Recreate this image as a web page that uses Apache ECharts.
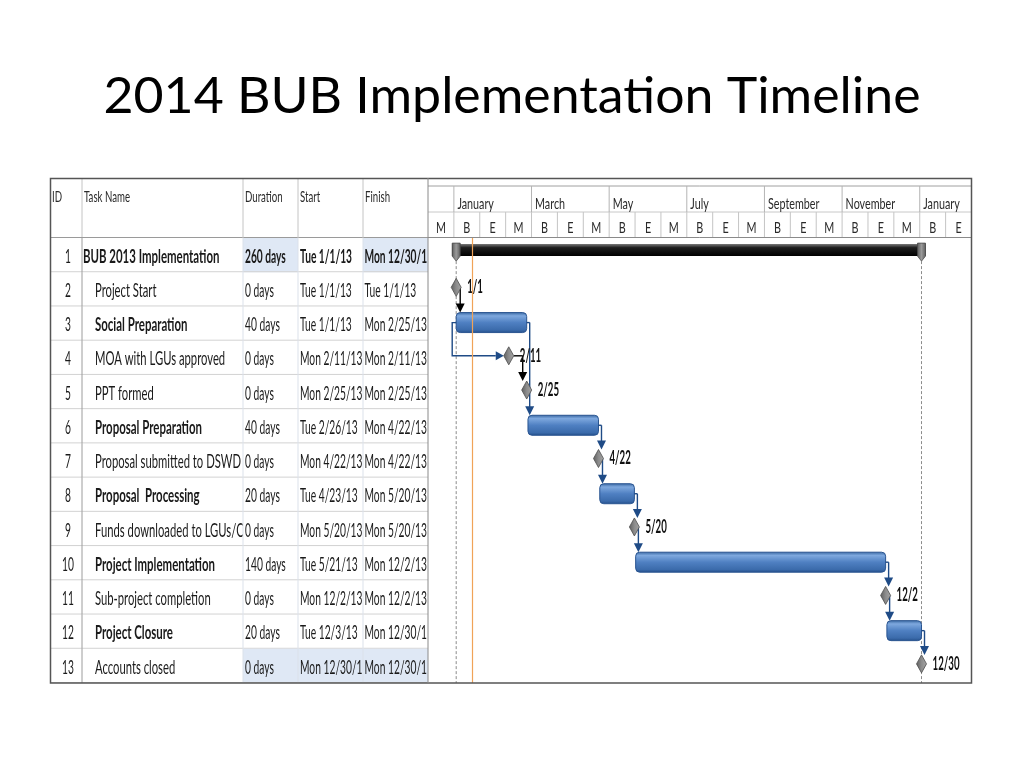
<!DOCTYPE html>
<html>
<head>
<meta charset="utf-8">
<script src="https://cdn.jsdelivr.net/npm/echarts@6.0.0/dist/echarts.min.js"></script>
<style>
html,body{margin:0;padding:0;background:#ffffff;}
#chart{width:1024px;height:768px;}
</style>
</head>
<body>
<div id="chart"></div>
<script>
// ---------------- data ----------------
const chartTitle = '2014 BUB Implementation Timeline';
const columnHeaders = ['ID', 'Task Name', 'Duration', 'Start', 'Finish'];
const taskIds = ['1','2','3','4','5','6','7','8','9','10','11','12','13'];
const taskNames = ['BUB 2013 Implementation','Project Start','Social Preparation','MOA with LGUs approved','PPT formed','Proposal Preparation','Proposal submitted to DSWD','Proposal  Processing','Funds downloaded to LGUs/CSOs','Project Implementation','Sub-project completion','Project Closure','Accounts closed'];
const durations = ['260 days','0 days','40 days','0 days','0 days','40 days','0 days','20 days','0 days','140 days','0 days','20 days','0 days'];
const startLabels = ['Tue 1/1/13','Tue 1/1/13','Tue 1/1/13','Mon 2/11/13','Mon 2/25/13','Tue 2/26/13','Mon 4/22/13','Tue 4/23/13','Mon 5/20/13','Tue 5/21/13','Mon 12/2/13','Tue 12/3/13','Mon 12/30/13'];
const finishLabels = ['Mon 12/30/13','Tue 1/1/13','Mon 2/25/13','Mon 2/11/13','Mon 2/25/13','Mon 4/22/13','Mon 4/22/13','Mon 5/20/13','Mon 5/20/13','Mon 12/2/13','Mon 12/2/13','Mon 12/30/13','Mon 12/30/13'];
const startDates = ['2013-01-01','2013-01-01','2013-01-01','2013-02-11','2013-02-25','2013-02-26','2013-04-22','2013-04-23','2013-05-20','2013-05-21','2013-12-02','2013-12-03','2013-12-30'];
const finishDates = ['2013-12-30','2013-01-01','2013-02-25','2013-02-11','2013-02-25','2013-04-22','2013-04-22','2013-05-20','2013-05-20','2013-12-02','2013-12-02','2013-12-30','2013-12-30'];
const taskTypes = ['summary','milestone','task','milestone','milestone','task','milestone','task','milestone','task','milestone','task','milestone'];
// [predecessor row, successor row, link type]
const dependencies = [[1,2,'FS'],[2,3,'SS'],[3,4,'FS'],[2,5,'FS'],[5,6,'FS'],[6,7,'FS'],[7,8,'FS'],[8,9,'FS'],[9,10,'FS'],[10,11,'FS'],[11,12,'FS']];
const currentDate = '2013-01-13';
const timescaleStart = '2012-12-10';
const timescaleEnd = '2014-02-07';
const majorTimescale = ['', 'January', 'March', 'May', 'July', 'September', 'November', 'January'];
const minorTimescale = ['M','B','E','M','B','E','M','B','E','M','B','E','M','B','E','M','B','E','M','B','E'];

// ---------------- helpers ----------------
const EPOCH = Date.UTC(2013, 0, 1);
function dayOf(s) { const p = s.split('-').map(Number); return (Date.UTC(p[0], p[1] - 1, p[2]) - EPOCH) / 864e5; }
function mdLabel(s) { const p = s.split('-').map(Number); return p[1] + '/' + p[2]; }

const FONT = 'Lato';
const mctx = document.createElement('canvas').getContext('2d');
function tw(s, weight, size) { mctx.font = weight + ' ' + size + 'px ' + FONT; return mctx.measureText(s).width; }
const SC_REG = 146 / tw('Proposal submitted to DSWD', 'normal', 19);
const SC_BOLD = 120 / tw('Project Implementation', 'bold', 19);
const SC_NUM = 62.5 / tw('Mon 2/11/13', 'normal', 19);
const SC_NUM_B = 52 / tw('Tue 1/1/13', 'bold', 19);
const SC_HEAD = 46 / tw('Task Name', 'normal', 16);
const SC_SCALE = 36.5 / tw('January', 'normal', 16);
const SC_MS = 27 / tw('12/30', 'bold', 18);
const SC_TITLE = 817 / tw(chartTitle, 'normal', 50);

const TEXT = '#1a1a1a';
function label(x, y, text, size, weight, scale, align, color) {
  return { type: 'text', x: x, y: y, scaleX: scale, silent: true,
    style: { text: text, fontSize: size, fontFamily: FONT, fontWeight: weight, fill: color || TEXT,
      align: align || 'left', verticalAlign: 'middle' } };
}
function clipped(el, x0, y0, x1, y1) {
  return { type: 'group', clipPath: { type: 'rect', shape: { x: x0, y: y0, width: x1 - x0, height: y1 - y0 } }, children: [el] };
}
function seg(x1, y1, x2, y2, color, width, dash) {
  return { type: 'line', silent: true, shape: { x1: x1, y1: y1, x2: x2, y2: y2 },
    style: { stroke: color, lineWidth: width || 1, lineDash: dash || null } };
}

// layout (styles, not data)
const COL = [0, 32, 193, 248, 313, 378];          // table column edges relative to table left
const HIGHLIGHT = { 0: [2, 4], 12: [2, 3, 4] };     // changed-cell shading
const BLACK_LINKS = [0, 2];
const BLUE = '#1f4b86';

const barFill = new echarts.graphic.LinearGradient(0, 0, 0, 1, [
  { offset: 0, color: '#35649f' }, { offset: 0.18, color: '#7ea8de' }, { offset: 0.5, color: '#4f80c2' },
  { offset: 0.85, color: '#3b6bab' }, { offset: 1, color: '#234d88' }]);
const sumFill = new echarts.graphic.LinearGradient(0, 0, 0, 1, [
  { offset: 0, color: '#777' }, { offset: 0.3, color: '#1e1e1e' }, { offset: 1, color: '#000' }]);
const capFill = new echarts.graphic.LinearGradient(0, 0, 1, 0, [
  { offset: 0, color: '#5a5a5a' }, { offset: 0.5, color: '#9a9a9a' }, { offset: 1, color: '#5a5a5a' }]);
const msFill = new echarts.graphic.LinearGradient(0, 0, 1, 0, [
  { offset: 0, color: '#5e5e5e' }, { offset: 0.5, color: '#8c8c8c' }, { offset: 1, color: '#a5a5a5' }]);

const rows = taskIds.map((id, i) => i);

const option = {
  animation: false,
  grid: [
    { left: 50, top: 178, width: 378, height: 60 },
    { left: 50, top: 238, width: 378, height: 445 },
    { left: 428, top: 178, width: 543.5, height: 60 },
    { left: 428, top: 238, width: 543.5, height: 445 }
  ],
  xAxis: [
    { gridIndex: 0, type: 'value', min: 0, max: 378, show: false },
    { gridIndex: 1, type: 'value', min: 0, max: 378, show: false },
    { gridIndex: 2, type: 'value', min: 0, max: minorTimescale.length, show: false },
    { gridIndex: 3, type: 'value', min: dayOf(timescaleStart), max: dayOf(timescaleEnd), show: false }
  ],
  yAxis: [
    { gridIndex: 0, type: 'value', min: 0, max: 60, inverse: true, show: false },
    { gridIndex: 1, type: 'category', data: taskIds, inverse: true, show: false },
    { gridIndex: 2, type: 'value', min: 0, max: 60, inverse: true, show: false },
    { gridIndex: 3, type: 'category', data: taskIds, inverse: true, show: false }
  ],
  graphic: [
    { type: 'text', x: 512, y: 97, scaleX: SC_TITLE, silent: true,
      style: { text: chartTitle, fontSize: 50, fontFamily: FONT, fill: '#000', align: 'center', verticalAlign: 'middle' } },
    { type: 'rect', z: 100, silent: true, shape: { x: 50.5, y: 178.5, width: 921, height: 504.5 },
      style: { fill: 'none', stroke: '#555', lineWidth: 1.5 } },
    { type: 'line', z: 100, silent: true, shape: { x1: 428, y1: 178, x2: 428, y2: 683 },
      style: { stroke: '#8a8a8a', lineWidth: 1 } }
  ],
  series: [
    // table header
    { type: 'custom', xAxisIndex: 0, yAxisIndex: 0, z: 2,
      data: columnHeaders.map((h, i) => [COL[i], 0]),
      renderItem: function (params, api) {
        const i = params.dataIndex;
        const x0 = api.coord([COL[i], 0])[0], x1 = api.coord([COL[i + 1], 0])[0];
        const yt = api.coord([0, 0])[1], yb = api.coord([0, 60])[1];
        const ch = [];
        if (i < columnHeaders.length - 1) ch.push(seg(x1, yt, x1, yb, '#c4c4c4'));
        if (i === 0) ch.push(seg(x0, yb - 0.5, api.coord([378, 0])[0], yb - 0.5, '#9a9a9a'));
        ch.push(label(x0 + 2, api.coord([0, 18.5])[1], columnHeaders[i], 16, 'normal', SC_HEAD, 'left', '#2a2a2a'));
        return { type: 'group', children: ch };
      }
    },
    // table body
    { type: 'custom', xAxisIndex: 1, yAxisIndex: 1, z: 2,
      data: rows.map(i => [0, i]),
      renderItem: function (params, api) {
        const i = params.dataIndex;
        const c = api.coord([0, i]);
        const h = api.size([0, 1])[1];
        const yc = c[1], top = yc - h / 2, bot = yc + h / 2;
        const X = v => api.coord([v, i])[0];
        const ch = [];
        (HIGHLIGHT[i] || []).forEach(k => ch.push({ type: 'rect', silent: true,
          shape: { x: X(COL[k]), y: top, width: X(COL[k + 1]) - X(COL[k]), height: h }, style: { fill: '#dfe8f5' } }));
        ch.push(seg(X(0), bot - 0.5, X(378), bot - 0.5, '#d2d2d2'));
        ch.push(seg(X(COL[1]), top, X(COL[1]), bot, '#9c9c9c'));
        [2, 3, 4].forEach(k => ch.push(seg(X(COL[k]), top, X(COL[k]), bot, '#dbe1ea')));
        const ty = yc + 1.5;
        const allBold = taskTypes[i] === 'summary';
        const nameBold = taskTypes[i] !== 'milestone';
        const rw = allBold ? 'bold' : 'normal', rs = allBold ? SC_NUM_B : SC_NUM;
        ch.push(label(X(18), ty, taskIds[i], 19, 'normal', SC_NUM, 'center'));
        ch.push(clipped(label(X(i === 0 ? 33 : 45), ty, taskNames[i], 19, nameBold ? 'bold' : 'normal', nameBold ? SC_BOLD : SC_REG), X(COL[1]), top, X(COL[2]) - 0.5, bot));
        ch.push(clipped(label(X(195), ty, durations[i], 19, rw, rs), X(COL[2]), top, X(COL[3]) - 0.5, bot));
        ch.push(clipped(label(X(250), ty, startLabels[i], 19, rw, rs), X(COL[3]), top, X(COL[4]) - 0.5, bot));
        ch.push(clipped(label(X(314.5), ty, finishLabels[i], 19, rw, rs), X(COL[4]), top, X(COL[5]) - 1, bot));
        return { type: 'group', children: ch };
      }
    },
    // timescale minor tier
    { type: 'custom', xAxisIndex: 2, yAxisIndex: 2, z: 2,
      data: minorTimescale.map((m, i) => [i, 34]),
      renderItem: function (params, api) {
        const i = params.dataIndex;
        const x0 = api.coord([i, 0])[0], x1 = api.coord([i + 1, 0])[0];
        const yt = api.coord([0, 34])[1], yb = api.coord([0, 60])[1];
        const ch = [];
        if (i > 0) ch.push(seg(x0, yt, x0, yb, '#c4c4c4'));
        ch.push(label((x0 + x1) / 2, api.coord([0, 49.5])[1], minorTimescale[i], 16, 'normal', SC_SCALE, 'center', '#2a2a2a'));
        return { type: 'group', children: ch };
      }
    },
    // timescale major tier
    { type: 'custom', xAxisIndex: 2, yAxisIndex: 2, z: 2,
      data: majorTimescale.map((m, i) => [i === 0 ? 0 : 1 + 3 * (i - 1), 8]),
      renderItem: function (params, api) {
        const i = params.dataIndex;
        const start = api.value(0);
        const x0 = api.coord([start, 0])[0];
        const y8 = api.coord([0, 8])[1], y34 = api.coord([0, 34])[1], y60 = api.coord([0, 60])[1];
        const ch = [];
        if (i === 0) {
          const xa = api.coord([0, 0])[0], xb = api.coord([minorTimescale.length, 0])[0];
          ch.push(seg(xa, y8, xb, y8, '#a0a0a0'));
          ch.push(seg(xa, y34, xb, y34, '#c8c8c8'));
          ch.push(seg(xa, y60 - 0.5, xb, y60 - 0.5, '#8a8a8a'));
        }
        if (start > 0) ch.push(seg(x0, y8, x0, y34, '#b4b4b4'));
        if (majorTimescale[i]) ch.push(label(x0 + 3.5, api.coord([0, 26])[1], majorTimescale[i], 16, 'normal', SC_SCALE, 'left', '#2a2a2a'));
        return { type: 'group', children: ch };
      }
    },
    // summary bar
    { type: 'custom', xAxisIndex: 3, yAxisIndex: 3, z: 3,
      data: rows.filter(i => taskTypes[i] === 'summary').map(i => [dayOf(startDates[i]), i, dayOf(finishDates[i])]),
      renderItem: function (params, api) {
        const s = api.coord([api.value(0), api.value(1)]);
        const e = api.coord([api.value(2), api.value(1)]);
        const yc = s[1];
        const cs = params.coordSys;
        const ch = [];
        [s[0], e[0]].forEach(x => ch.push(seg(x, yc + 6, x, cs.y + cs.height, '#8c8c8c', 1, [3, 2])));
        ch.push({ type: 'rect', shape: { x: s[0] - 4, y: yc - 11, width: e[0] - s[0] + 8, height: 12 }, style: { fill: sumFill } });
        [s[0], e[0]].forEach(x => ch.push({ type: 'polygon',
          shape: { points: [[x - 4, yc - 12], [x + 4, yc - 12], [x + 4, yc + 1], [x, yc + 6], [x - 4, yc + 1]] },
          style: { fill: capFill, stroke: '#4a4a4a', lineWidth: 0.8 } }));
        return { type: 'group', children: ch };
      }
    },
    // task bars
    { type: 'custom', xAxisIndex: 3, yAxisIndex: 3, z: 3,
      data: rows.filter(i => taskTypes[i] === 'task').map(i => [dayOf(startDates[i]), i, dayOf(finishDates[i])]),
      renderItem: function (params, api) {
        const s = api.coord([api.value(0), api.value(1)]);
        const e = api.coord([api.value(2), api.value(1)]);
        return { type: 'rect', shape: { x: s[0], y: s[1] - 11, width: e[0] - s[0], height: 20, r: 4 },
          style: { fill: barFill, stroke: '#2a5591', lineWidth: 1 } };
      }
    },
    // dependency links
    { type: 'custom', xAxisIndex: 3, yAxisIndex: 3, z: 4,
      data: dependencies.map((d, k) => [k, d[0]]),
      renderItem: function (params, api) {
        const k = params.dataIndex;
        const p = dependencies[k][0], q = dependencies[k][1], kind = dependencies[k][2];
        const color = BLACK_LINKS.indexOf(k) >= 0 ? '#000' : BLUE;
        const yOf = i => api.coord([0, i])[1];
        const xOf = d => api.coord([d, 0])[0];
        const ch = [];
        const pm = taskTypes[p] === 'milestone', qm = taskTypes[q] === 'milestone';
        const py = yOf(p) + (pm ? -2 : -1);
        if (kind === 'SS') {
          const xs = xOf(dayOf(startDates[p]));
          const hx = xs - 4;
          const ty = yOf(q) - 2;
          const tx = xOf(dayOf(startDates[q])) - 5;
          ch.push({ type: 'polyline', shape: { points: [[xs, py], [hx, py], [hx, ty], [tx - 8, ty]] }, style: { stroke: color, lineWidth: 1.4, fill: null } });
          ch.push({ type: 'polygon', shape: { points: [[tx - 8, ty - 4.5], [tx - 8, ty + 4.5], [tx, ty]] }, style: { fill: color } });
        } else {
          const pe = xOf(dayOf(finishDates[p]));
          const edge = pm ? pe + 5 : pe;
          const qs = xOf(dayOf(startDates[q]));
          const vx = Math.max(pm ? pe + 4 : pe + 3, qs - 4);
          const top = yOf(q) - 11;
          if (vx > edge) ch.push(seg(edge, py, vx, py, color, 1.4));
          ch.push(seg(vx, py, vx, top - 8, color, 1.4));
          ch.push({ type: 'polygon', shape: { points: [[vx - 4.5, top - 9], [vx + 4.5, top - 9], [vx, top]] }, style: { fill: color } });
        }
        return { type: 'group', children: ch };
      }
    },
    // milestones
    { type: 'custom', xAxisIndex: 3, yAxisIndex: 3, z: 5,
      data: rows.filter(i => taskTypes[i] === 'milestone').map(i => [dayOf(finishDates[i]), i, mdLabel(finishDates[i])]),
      renderItem: function (params, api) {
        const c = api.coord([api.value(0), api.value(1)]);
        const x = c[0], y = c[1] - 2;
        return { type: 'group', children: [
          { type: 'polygon', shape: { points: [[x, y - 9], [x + 5, y], [x, y + 9], [x - 5, y]] },
            style: { fill: msFill, stroke: '#4d4d4d', lineWidth: 0.8 } },
          label(x + 11, y, api.value(2), 18, 'bold', SC_MS, 'left', '#111')
        ] };
      }
    },
    // current date line
    { type: 'custom', xAxisIndex: 3, yAxisIndex: 3, z: 6,
      data: [[dayOf(currentDate), 0]],
      renderItem: function (params, api) {
        const x = Math.round(api.coord([api.value(0), 0])[0]) + 0.5;
        const cs = params.coordSys;
        return seg(x, cs.y, x, cs.y + cs.height, '#f0a358', 1.2);
      }
    }
  ]
};

const chart = echarts.init(document.getElementById('chart'));
chart.setOption(option);
</script>
</body>
</html>
